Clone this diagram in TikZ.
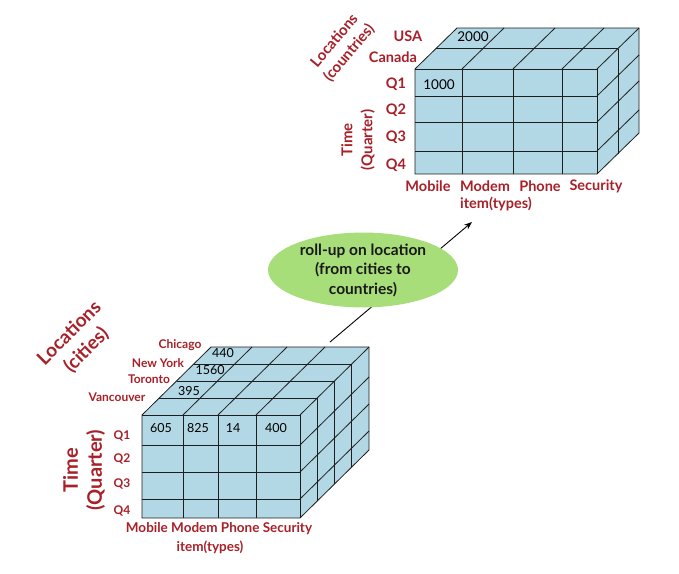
\documentclass[tikz,border=0pt]{standalone}
\usepackage{fontspec}
\setmainfont{Lato}
\usetikzlibrary{shapes.geometric,arrows.meta}
\definecolor{lblred}{RGB}{168,32,40}
\definecolor{cellblue}{RGB}{178,215,229}
\definecolor{gridc}{RGB}{30,30,30}
\definecolor{ellgreen}{RGB}{168,222,122}
\newcommand{\mycube}[9]{%
  \fill[cellblue] (#1,#2) rectangle (#3,#4);
  \fill[cellblue] (#1,#2) -- ({#1+#5},{#2+#6}) -- ({#3+#5},{#2+#6}) -- (#3,#2) -- cycle;
  \fill[cellblue] (#3,#2) -- ({#3+#5},{#2+#6}) -- ({#3+#5},{#4+#6}) -- (#3,#4) -- cycle;
  \foreach \c in {#8} {\draw[gridline] (\c,#2) -- (\c,#4); \draw[gridline] (\c,#2) -- ({\c+#5},{#2+#6});}
  \foreach \r in {#9} {\draw[gridline] (#1,\r) -- (#3,\r); \draw[gridline] (#3,\r) -- ({#3+#5},{\r+#6});}
  \pgfmathtruncatemacro\mylast{#7-1}
  \foreach \k in {1,...,\mylast} {%
    \draw[gridline] ({#1+\k*#5/#7},{#2+\k*#6/#7}) -- ({#3+\k*#5/#7},{#2+\k*#6/#7});
    \draw[gridline] ({#3+\k*#5/#7},{#2+\k*#6/#7}) -- ({#3+\k*#5/#7},{#4+\k*#6/#7});}
  \draw[gridline] (#1,#4) -- (#1,#2) -- ({#1+#5},{#2+#6}) -- ({#3+#5},{#2+#6}) -- ({#3+#5},{#4+#6}) -- (#3,#4) -- cycle;
  \draw[gridline] (#1,#2) -- (#3,#2) -- (#3,#4);
  \draw[gridline] (#3,#2) -- ({#3+#5},{#2+#6});
}
\tikzset{
  gridline/.style={draw=gridc,line width=0.8pt},
  redlbl/.style={text=lblred,font=\bfseries\fontsize{14.5}{16}\selectfont,inner sep=0pt},
  redsm/.style={text=lblred,font=\bfseries\fontsize{12}{13}\selectfont,inner sep=0pt},
  vallbl/.style={text=black,font=\fontsize{13.5}{15}\selectfont,inner sep=0pt},
  valsm/.style={text=black,font=\fontsize{12.5}{14}\selectfont,inner sep=0pt},
  bubble/.style={ellipse,fill=ellgreen,minimum width=190pt,minimum height=68pt,inner sep=0pt,align=center,
    text=black!90,font=\bfseries\fontsize{15.5}{19.5}\selectfont},
}
\begin{document}
\begin{tikzpicture}[x=1pt,y=-1pt]
\useasboundingbox[fill=white] (0,0) rectangle (679,573);
% arrow (behind bubble)
\coordinate (arrS) at (330,342);
\coordinate (arrE) at (472,222);
\draw[line width=0.9pt,-{Stealth[length=8pt,width=6pt]}] (arrS) -- (arrE);
\node[bubble] (roll) at (363,270) {roll-up on location\\(from cities to\\countries)};
% top cube
\mycube{415}{69}{597}{174}{42}{-41}{2}{462,513,562}{96,122,151}
\node[vallbl] (v2000) at (473,37) {2000};
\node[vallbl] (v1000) at (439,85) {1000};
\node[redlbl] (usa) at (408,36) {USA};
\node[redlbl] (canada) at (393,57) {Canada};
\node[redlbl] (tq1) at (396,84) {Q1};
\node[redlbl] (tq2) at (396,110) {Q2};
\node[redlbl] (tq3) at (396,137) {Q3};
\node[redlbl] (tq4) at (396,165) {Q4};
\node[redlbl] (tmob) at (428,186) {Mobile};
\node[redlbl] (tmod) at (485,186) {Modem};
\node[redlbl] (tpho) at (540,186) {Phone};
\node[redlbl] (tsec) at (596,186) {Security};
\node[redlbl] (titem) at (496,204) {item(types)};
\node[redlbl,rotate=50,align=center,font=\bfseries\fontsize{15}{19}\selectfont] (tloc) at (342,47) {Locations\\(countries)};
\node[redlbl,rotate=90,align=center,font=\bfseries\fontsize{15}{20}\selectfont] (ttime) at (358,140) {Time\\(Quarter)};
% bottom cube
\mycube{142}{415}{300}{518}{69}{-68}{4}{183,218,256}{445,472,499}
\node[valsm] (v440) at (223,353) {440};
\node[valsm] (v1560) at (210,370) {1560};
\node[valsm] (v395) at (189,391) {395};
\node[valsm] (v605) at (161,428) {605};
\node[valsm] (v825) at (198,428) {825};
\node[valsm] (v14) at (233,428) {14};
\node[valsm] (v400) at (276,428) {400};
\node[redsm] (chi) at (180,345) {Chicago};
\node[redsm] (ny) at (158,363) {New York};
\node[redsm] (tor) at (149,379) {Toronto};
\node[redsm] (van) at (117,397) {Vancouver};
\node[redsm] (bq1) at (122,436) {Q1};
\node[redsm] (bq2) at (122,459) {Q2};
\node[redsm] (bq3) at (122,484) {Q3};
\node[redsm] (bq4) at (122,511) {Q4};
\node[redsm,font=\bfseries\fontsize{13.5}{15}\selectfont] (bitems) at (219,529) {Mobile Modem Phone Security};
\node[redsm,font=\bfseries\fontsize{13.5}{15}\selectfont] (bitem) at (210,547) {item(types)};
\node[redlbl,rotate=45,align=center,font=\bfseries\fontsize{19}{24}\selectfont] (bloc) at (78,342) {Locations\\(cities)};
\node[redlbl,rotate=90,align=center,font=\bfseries\fontsize{20}{24}\selectfont] (btime) at (84,470) {Time\\(Quarter)};
\end{tikzpicture}
\end{document}
